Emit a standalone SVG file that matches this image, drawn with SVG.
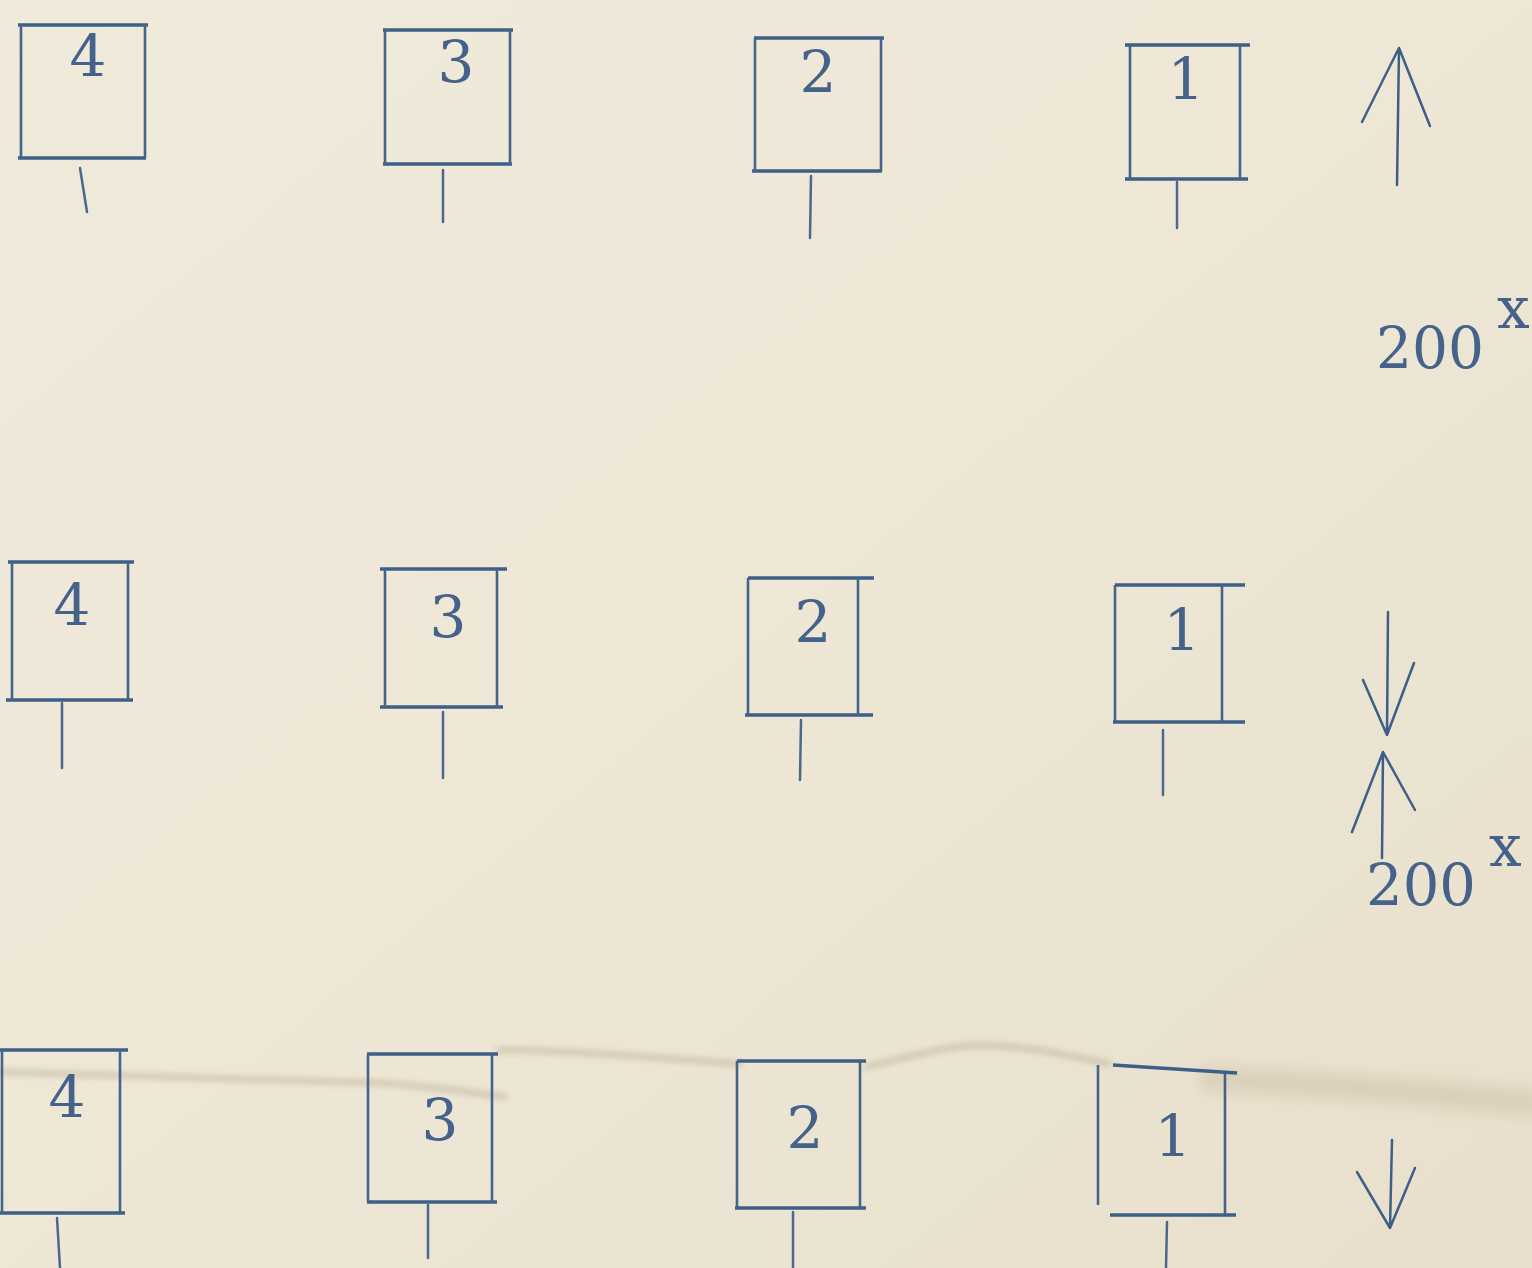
<svg xmlns="http://www.w3.org/2000/svg" width="1532" height="1268" viewBox="0 0 1532 1268">
<defs>
<linearGradient id="paper" x1="0" y1="0" x2="1" y2="1">
<stop offset="0" stop-color="#f0eadb"/>
<stop offset="0.5" stop-color="#eee7d6"/>
<stop offset="1" stop-color="#e8e0cc"/>
</linearGradient>
<filter id="soft" x="-5%" y="-50%" width="110%" height="200%">
<feGaussianBlur stdDeviation="3"/>
</filter>
<filter id="softer" x="-5%" y="-100%" width="110%" height="300%">
<feGaussianBlur stdDeviation="8"/>
</filter>
</defs>
<style>
.h{stroke:#3e5f88;stroke-width:3.5;fill:none;stroke-linecap:butt}
.v{stroke:#44648c;stroke-width:2.6;fill:none;stroke-linecap:butt}
.stem{stroke:#4a6890;stroke-width:2.5;fill:none;stroke-linecap:round}
.arr{stroke:#3e5f88;stroke-width:2.5;fill:none;stroke-linecap:round;stroke-linejoin:round}
.fold{stroke:#b3a88e;stroke-width:5;fill:none;stroke-linecap:round;opacity:0.6}
.num{font-family:"DejaVu Serif","Liberation Serif",serif;font-size:58px;fill:#44628a;text-anchor:middle}
.lbl{font-family:"DejaVu Serif","Liberation Serif",serif;font-size:58px;fill:#44628a}
</style>
<rect x="0" y="0" width="1532" height="1268" fill="url(#paper)"/>
<g id="paper-fold">
<path d="M1200,1078 C1320,1084 1440,1094 1540,1104" stroke="#cfc5ac" stroke-width="26" fill="none" opacity="0.6" filter="url(#softer)"/>
<path class="fold" d="M0,1072 C150,1077 300,1080 380,1083 C430,1086 470,1092 505,1097" filter="url(#soft)"/>
<path class="fold" d="M498,1050 C570,1050 660,1058 740,1064" opacity="0.35" filter="url(#soft)"/>
<path class="fold" d="M866,1067 C900,1060 940,1046 980,1045 C1030,1046 1070,1056 1110,1064" opacity="0.25" filter="url(#soft)"/>
</g>

<g id="r1-box4">
<path class="h" d="M18,25 H148 M18,158 H146"/>
<path class="v" d="M21,25 V158 M145,25 V158"/>
<text class="num" x="88" y="76">4</text>
<path class="stem" d="M80,168 L87,212"/>
</g>
<g id="r1-box3">
<path class="h" d="M383,30 H513 M383,164 H512"/>
<path class="v" d="M385,30 V164 M510,30 V164"/>
<text class="num" x="456" y="82">3</text>
<path class="stem" d="M443,170 L443,222"/>
</g>
<g id="r1-box2">
<path class="h" d="M754,38 H884 M752,171 H882"/>
<path class="v" d="M755,38 V171 M881,38 V171"/>
<text class="num" x="818" y="92">2</text>
<path class="stem" d="M811,176 L810,238"/>
</g>
<g id="r1-box1">
<path class="h" d="M1125,45 H1250 M1125,179 H1248"/>
<path class="v" d="M1130,45 V179 M1240,45 V179"/>
<text class="num" x="1186" y="99">1</text>
<path class="stem" d="M1177,182 L1177,228"/>
</g>

<g id="r2-box4">
<path class="h" d="M8,562 H134 M6,700 H133"/>
<path class="v" d="M12,562 V700 M128,562 V700"/>
<text class="num" x="72" y="625">4</text>
<path class="stem" d="M62,703 L62,768"/>
</g>
<g id="r2-box3">
<path class="h" d="M380,569 H507 M380,707 H503"/>
<path class="v" d="M385,569 V707 M497,569 V707"/>
<text class="num" x="448" y="637">3</text>
<path class="stem" d="M443,712 L443,778"/>
</g>
<g id="r2-box2">
<path class="h" d="M748,578 H874 M745,715 H873"/>
<path class="v" d="M748,578 V715 M858,578 V715"/>
<text class="num" x="813" y="642">2</text>
<path class="stem" d="M801,720 L800,780"/>
</g>
<g id="r2-box1">
<path class="h" d="M1115,585 H1245 M1113,722 H1245"/>
<path class="v" d="M1115,585 V722 M1222,585 V722"/>
<text class="num" x="1182" y="650">1</text>
<path class="stem" d="M1163,730 L1163,795"/>
</g>

<g id="r3-box4">
<path class="h" d="M0,1050 H128 M0,1213 H125"/>
<path class="v" d="M2,1050 V1213 M120,1050 V1213"/>
<text class="num" x="67" y="1117">4</text>
<path class="stem" d="M57,1218 L60,1268"/>
</g>
<g id="r3-box3">
<path class="h" d="M367,1054 H498 M367,1202 H497"/>
<path class="v" d="M368,1054 V1202 M492,1054 V1202"/>
<text class="num" x="440" y="1140">3</text>
<path class="stem" d="M428,1205 L428,1258"/>
</g>
<g id="r3-box2">
<path class="h" d="M737,1061 H866 M735,1208 H866"/>
<path class="v" d="M737,1061 V1208 M860,1061 V1208"/>
<text class="num" x="805" y="1148">2</text>
<path class="stem" d="M793,1212 L793,1268"/>
</g>
<g id="r3-box1">
<path class="h" d="M1113,1065 L1237,1073 M1110,1215 H1236"/>
<path class="v" d="M1098,1065 V1205 M1225,1073 V1215"/>
<text class="num" x="1173" y="1156">1</text>
<path class="stem" d="M1167,1222 L1166,1268"/>
</g>

<g id="connectors">
<path class="arr" d="M1397,185 L1399,48 M1362,122 L1399,48 L1430,126"/>
<path class="arr" d="M1388,612 L1387,735 M1363,680 L1387,735 L1414,663"/>
<path class="arr" d="M1382,858 L1383,752 M1352,832 L1383,752 L1415,810"/>
<path class="arr" d="M1392,1140 L1390,1228 M1357,1172 L1390,1228 L1415,1168"/>
</g>

<g id="label-top">
<text class="lbl" x="1376" y="368" textLength="108" lengthAdjust="spacingAndGlyphs">200</text>
<text class="lbl" x="1497" y="328" font-size="46">x</text>
</g>
<g id="label-mid">
<text class="lbl" x="1366" y="905" textLength="110" lengthAdjust="spacingAndGlyphs">200</text>
<text class="lbl" x="1489" y="866" font-size="46">x</text>
</g>
</svg>
